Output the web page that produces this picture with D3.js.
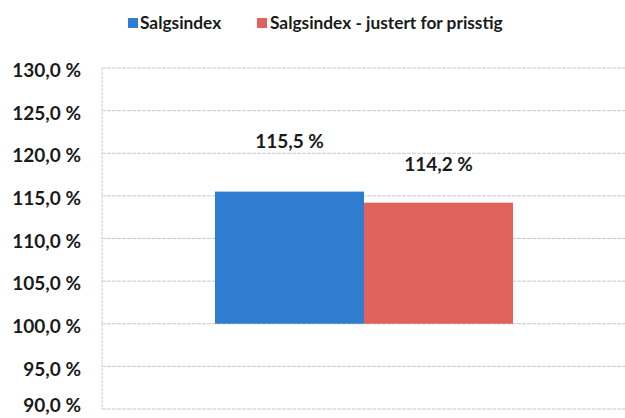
<!DOCTYPE html>
<html><head><meta charset="utf-8">
<script src="https://cdn.jsdelivr.net/npm/d3@7"></script>
<style>
html,body{margin:0;padding:0;background:#fff;}
svg{display:block;}
text{font-family:Lato,"Open Sans",sans-serif;font-weight:700;fill:#1a1a1a;}
</style></head>
<body><svg id="c" width="625" height="418"></svg>
<script>
const categories = ["Salgsindex", "Salgsindex - justert for prisstig"];
const values = [115.5, 114.2];
const valueLabels = ["115,5 %", "114,2 %"];
const yTicks = [90, 95, 100, 105, 110, 115, 120, 125, 130];
const tickLabels = ["90,0 %","95,0 %","100,0 %","105,0 %","110,0 %","115,0 %","120,0 %","125,0 %","130,0 %"];
const colors = ["#2f7dd0", "#e0625a"];

(function(){
const svg = d3.select("#c");
const pLeft = 102, pRight = 625, pTop = 68, pBottom = 409;
const y = d3.scaleLinear().domain([90,130]).range([pBottom, pTop]);
const x = d3.scaleBand().domain(categories).range([215, 513]).padding(0);

// gridlines
const g = svg.append("g");
g.selectAll("line.grid").data(yTicks).join("line")
  .attr("x1", pLeft).attr("x2", pRight)
  .attr("y1", d=>y(d)).attr("y2", d=>y(d))
  .attr("stroke", "#c8c8c8").attr("stroke-width", 1).attr("stroke-dasharray", "4,1");
g.append("line").attr("x1", pLeft).attr("x2", pLeft).attr("y1", pTop).attr("y2", pBottom)
  .attr("stroke", "#d2d2d2").attr("stroke-width", 1).attr("stroke-dasharray", "3,1");

// y axis labels
const yAxis = d3.axisLeft(y).tickValues(yTicks).tickSize(0).tickPadding(0)
  .tickFormat((d,i)=>tickLabels[i]);
const ax = svg.append("g").attr("transform", `translate(81,2)`).call(yAxis);
ax.select(".domain").remove();
ax.selectAll("text").attr("font-size", 19).attr("font-family", "Lato, sans-serif")
  .attr("font-weight", 700).attr("fill", "#1a1a1a")
  .attr("dy", (d,i)=> i === 0 ? "0.05em" : "0.35em");

// bars from 100 baseline
svg.selectAll("rect.bar").data(values).join("rect")
  .attr("x", (d,i)=>x(categories[i])).attr("width", x.bandwidth())
  .attr("y", d=>y(d)).attr("height", d=>y(100)-y(d))
  .attr("fill", (d,i)=>colors[i]);

// value labels
const labelOffsets = [44, 32];
svg.selectAll("text.val").data(values).join("text")
  .attr("x", (d,i)=>x(categories[i]) + x.bandwidth()/2)
  .attr("y", (d,i)=>y(d) - labelOffsets[i])
  .attr("text-anchor", "middle").attr("font-size", 19)
  .text((d,i)=>valueLabels[i]);

// legend
const legX = [128, 257], legTextX = [140, 270];
const leg = svg.selectAll("g.leg").data(categories).join("g");
leg.append("rect").attr("x", (d,i)=>legX[i]).attr("y", 18).attr("width", 10).attr("height", 10)
  .attr("fill", (d,i)=>colors[i]);
leg.append("text").attr("x", (d,i)=>legTextX[i]).attr("y", 29).attr("font-size", 17.3).text(d=>d);
})();
</script></body></html>
